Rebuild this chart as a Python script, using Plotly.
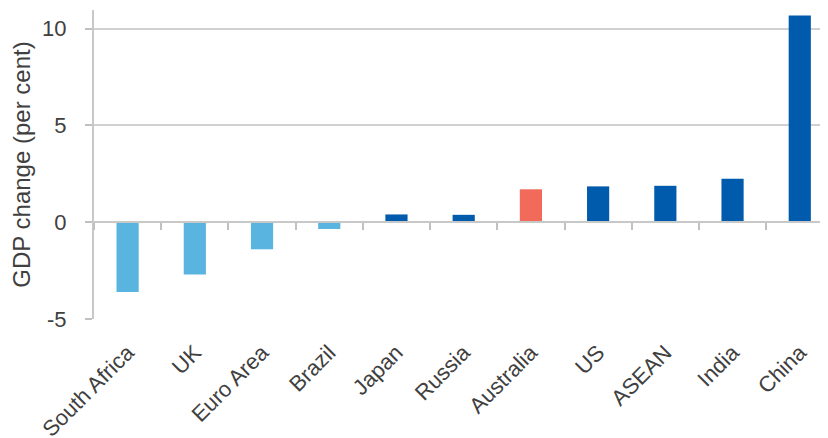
import plotly.graph_objects as go

countries = ["South Africa", "UK", "Euro Area", "Brazil", "Japan", "Russia",
             "Australia", "US", "ASEAN", "India", "China"]
gdp_change = [-3.6, -2.7, -1.4, -0.35, 0.4, 0.38, 1.7, 1.85, 1.88, 2.25, 10.68]
bar_colors = ["#5AB4E0", "#5AB4E0", "#5AB4E0", "#5AB4E0", "#005BAC", "#005BAC",
              "#F26A5A", "#005BAC", "#005BAC", "#005BAC", "#005BAC"]
y_ticks = [-5, 0, 5, 10]

FONT = "Liberation Sans, Arial, sans-serif"
GRID = "#D0D0D0"
y_range = [-5, 10.96]

fig = go.Figure()
fig.add_trace(go.Bar(x=countries, y=gdp_change, marker=dict(color=bar_colors, line=dict(width=0)),
                     width=0.33, showlegend=False, hoverinfo="x+y"))
# invisible trace carrying the tick axis located at zero
fig.add_trace(go.Scatter(x=countries, y=[0]*len(countries), xaxis="x2", mode="markers",
                         marker=dict(opacity=0), showlegend=False, hoverinfo="skip"))

x_range = [-0.5, 10.42]
zero_pos = (0 - y_range[0]) / (y_range[1] - y_range[0])

fig.update_layout(
    width=828, height=438,
    margin=dict(l=86, r=8, t=2, b=127),
    paper_bgcolor="white", plot_bgcolor="white",
    font=dict(family=FONT, color="#404040"),
    xaxis=dict(type="category", range=x_range, tickangle=-45, showline=False,
               ticks="outside", ticklen=11, tickcolor="rgba(0,0,0,0)",
               showgrid=False, automargin=False,
               tickfont=dict(size=22, color="#404040")),
    xaxis2=dict(type="category", range=x_range, overlaying="x", anchor="free",
                position=zero_pos, side="bottom", showticklabels=False,
                ticks="outside", tickson="boundaries", ticklen=7, tickwidth=2,
                tickcolor="#C0C0C0", showline=True, linecolor="#C8C8C8", linewidth=2,
                showgrid=False, automargin=False),
    yaxis=dict(range=y_range, tickvals=y_ticks, ticktext=[str(v) for v in y_ticks],
               showgrid=True, gridcolor=GRID, gridwidth=2, automargin=False,
               zeroline=False, showline=True, linecolor="#C8C8C8", linewidth=2,
               ticks="outside", ticklen=7, tickwidth=2, tickcolor="#C0C0C0",
               ticklabelstandoff=14,
               tickfont=dict(size=22, color="#404040"),
               title=dict(text="GDP change (per cent)", font=dict(size=24, color="#404040"),
                          standoff=8)),
)

fig.write_html("out.html")
